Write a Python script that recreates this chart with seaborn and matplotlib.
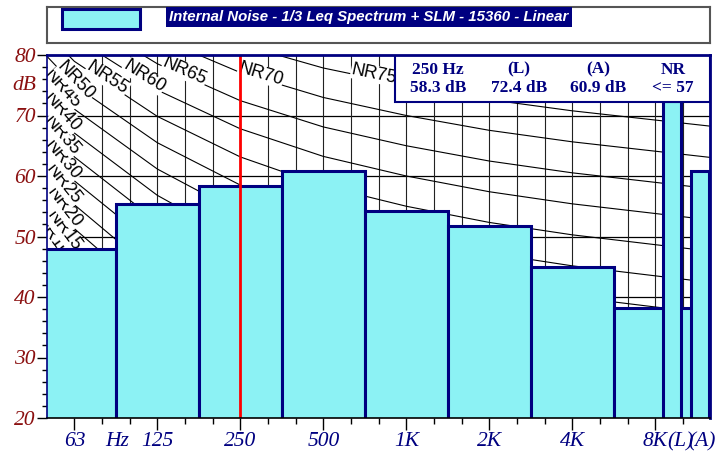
import numpy as np
import pandas as pd
import matplotlib
matplotlib.use('Agg')
import matplotlib.pyplot as plt
import matplotlib.transforms as mtrans
from matplotlib.patches import Rectangle
from matplotlib.ticker import FixedLocator, MultipleLocator
import seaborn as sns

# octave band spectrum (dB)
band_labels = ['63', '125', '250', '500', '1K', '2K', '4K', '8K']
band_hz = [62.5, 125, 250, 500, 1000, 2000, 4000, 8000]
band_db = [48.0, 55.3, 58.3, 60.8, 54.2, 51.8, 45.0, 38.2]

# overall levels
overall_labels = ['(L)', '(A)']
overall_db = [72.4, 60.9]
nr_result = 57

title = 'Internal Noise - 1/3 Leq Spectrum + SLM - 15360 - Linear'

# NR curve table: L = a + b * NR
nr_hz = [31.25, 62.5, 125, 250, 500, 1000, 2000, 4000, 8000]
nr_a = [55.4, 35.5, 22.0, 12.0, 4.8, 0.0, -3.5, -6.1, -8.0]
nr_b = [0.681, 0.790, 0.870, 0.930, 0.974, 1.000, 1.015, 1.025, 1.030]
nr_levels = [10, 15, 20, 25, 30, 35, 40, 45, 50, 55, 60, 65, 70, 75]
# where each NR label sits along its curve (octaves from 250 Hz)
nr_label_x = {10: -2.32, 15: -2.17, 20: -2.17, 25: -2.17, 30: -2.18, 35: -2.19,
              40: -2.19, 45: -2.19, 50: -2.02, 55: -1.63, 60: -1.19, 65: -0.69,
              70: 0.23, 75: 1.60}

NAVY = '#000080'
FILL = '#8CF2F4'
DARKRED = '#8B1010'
TICKFS = 15.5
MAJLEN_X = 8.4
TICKPAD_X = 2


def octave(hz):
    return np.log2(np.asarray(hz, dtype=float) / 250.0)


sns.set_style('white')
plt.rcParams['font.family'] = ['Liberation Serif', 'DejaVu Serif']

fig = plt.figure(figsize=(7.19, 4.57), dpi=100)
ax = fig.add_axes([47 / 719, 39 / 457, 663 / 719, 363 / 457])
ax.set_xlim(-2.33, 5.66)
ax.set_ylim(20, 80)

# grid
for v in range(30, 80, 10):
    ax.axhline(v, color='black', lw=0.9, zorder=1)
for k in range(-5, 17):
    ax.axvline(k / 3, color='#222222', lw=0.8, zorder=1)

# NR curves
nr_x = octave(nr_hz)
nr_x_ext = np.append(nr_x, nr_x[-1] + 1)
for nr in nr_levels:
    vals = np.array(nr_a) + np.array(nr_b) * nr
    vals_ext = np.append(vals, 2 * vals[-1] - vals[-2])
    ax.plot(nr_x_ext, vals_ext, color='black', lw=0.8, zorder=2)

# spectrum bars
df = pd.DataFrame({'octave': octave(band_hz), 'level': band_db})
sns.barplot(data=df, x='octave', y='level', native_scale=True, width=1.0,
            color=FILL, saturation=1, edgecolor=NAVY, linewidth=2.2,
            errorbar=None, ax=ax, zorder=3)

# overall (L) and (A) bars
ax.bar([5.09, 5.43], overall_db, width=0.22, align='edge', color=FILL,
       edgecolor=NAVY, linewidth=2.2, zorder=4)

ax.set_xlim(-2.33, 5.66)
ax.set_ylim(20, 80)
ax.set_xlabel('')
ax.set_ylabel('')

# NR labels along the curves
for nr, lx in nr_label_x.items():
    vals = np.array(nr_a) + np.array(nr_b) * nr
    vals_ext = np.append(vals, 2 * vals[-1] - vals[-2])
    ly = np.interp(lx, nr_x_ext, vals_ext)
    p1 = ax.transData.transform((lx - 0.02, np.interp(lx - 0.02, nr_x_ext, vals_ext)))
    p2 = ax.transData.transform((lx + 0.02, np.interp(lx + 0.02, nr_x_ext, vals_ext)))
    ang = np.degrees(np.arctan2(p2[1] - p1[1], p2[0] - p1[0]))
    ax.text(lx, ly, f'NR{nr}', rotation=ang, rotation_mode='anchor',
            ha='center', va='baseline', fontsize=13,
            family=['Liberation Sans', 'DejaVu Sans'], color='black',
            bbox=dict(facecolor='white', edgecolor='none', pad=0.3),
            zorder=2.5, clip_on=True)

# 250 Hz cursor
ax.axvline(octave(250), color='red', lw=2, zorder=6)

# ticks
ax.set_xticks(octave(band_hz))
ax.set_xticklabels(band_labels)
ax.xaxis.set_minor_locator(FixedLocator(np.arange(-7, 18) / 3))
ax.set_yticks(range(20, 81, 10))
ax.yaxis.set_minor_locator(MultipleLocator(2))
ax.tick_params(axis='both', which='both', direction='out', width=1,
               color='black', labelsize=TICKFS, bottom=True, left=True)
ax.tick_params(axis='x', which='major', length=MAJLEN_X, pad=TICKPAD_X,
               labelcolor=NAVY)
ax.tick_params(axis='x', which='minor', length=4.3)
ax.tick_params(axis='y', which='major', length=7, pad=1, labelcolor=DARKRED)
ax.tick_params(axis='y', which='minor', length=3.6)
for lab in ax.get_xticklabels() + ax.get_yticklabels():
    lab.set_fontstyle('italic')

xlab_trans = mtrans.offset_copy(
    mtrans.blended_transform_factory(ax.transData, ax.transAxes),
    fig=fig, y=-(MAJLEN_X + TICKPAD_X), units='points')
extra_x = {'Hz': -1.49, overall_labels[0]: 5.30, overall_labels[1]: 5.56}
for txt, xv in extra_x.items():
    ax.text(xv, 0, txt, transform=xlab_trans, ha='center', va='top',
            fontsize=TICKFS, fontstyle='italic', color=NAVY)

ylab_trans = mtrans.blended_transform_factory(ax.transAxes, ax.transData)
ax.text(-0.017, 75, 'dB', transform=ylab_trans, ha='right', va='center',
        fontsize=TICKFS, fontstyle='italic', color=DARKRED)

# spines
for side in ['top', 'right']:
    ax.spines[side].set_color(NAVY)
    ax.spines[side].set_linewidth(2)
ax.spines['left'].set_color(NAVY)
ax.spines['left'].set_linewidth(1.2)
ax.spines['bottom'].set_color('black')
ax.spines['bottom'].set_linewidth(1.2)
for s in ax.spines.values():
    s.set_zorder(8)

# info box
ax.add_patch(Rectangle((0.525, 0.870), 0.475, 0.13, transform=ax.transAxes,
                       facecolor='white', edgecolor=NAVY, lw=1.5, zorder=7))
heads = [f'{band_labels[2]} Hz', overall_labels[0], overall_labels[1], 'NR']
values = [f'{band_db[2]:.1f} dB', f'{overall_db[0]:.1f} dB',
          f'{overall_db[1]:.1f} dB', f'<= {nr_result}']
for cx, h, v in zip([0.590, 0.712, 0.831, 0.944], heads, values):
    ax.text(cx, 0.959, h, transform=ax.transAxes, ha='center', va='center',
            fontsize=12.5, fontweight='bold', color=NAVY, zorder=9)
    ax.text(cx, 0.909, v, transform=ax.transAxes, ha='center', va='center',
            fontsize=12.5, fontweight='bold', color=NAVY, zorder=9)

# legend strip
lax = fig.add_axes([47 / 719, 1 - 43 / 457, 663 / 719, 36 / 457])
lax.set_xlim(0, 663)
lax.set_ylim(36, 0)
lax.set_xticks([])
lax.set_yticks([])
for s in lax.spines.values():
    s.set_color('#555555')
    s.set_linewidth(1.5)
lax.add_patch(Rectangle((15, 2), 78, 20, facecolor=FILL, edgecolor=NAVY, lw=2.2))
t = lax.text(122, 10, title, ha='left', va='center', color='white',
             fontsize=12, fontweight='bold', fontstyle='italic',
             family=['Liberation Sans', 'DejaVu Sans'],
             bbox=dict(facecolor=NAVY, edgecolor='none', pad=2.5))
fig.canvas.draw()
w = t.get_window_extent().width
t.set_fontsize(12 * 400 / w)

fig.savefig('out.png', dpi=100)
